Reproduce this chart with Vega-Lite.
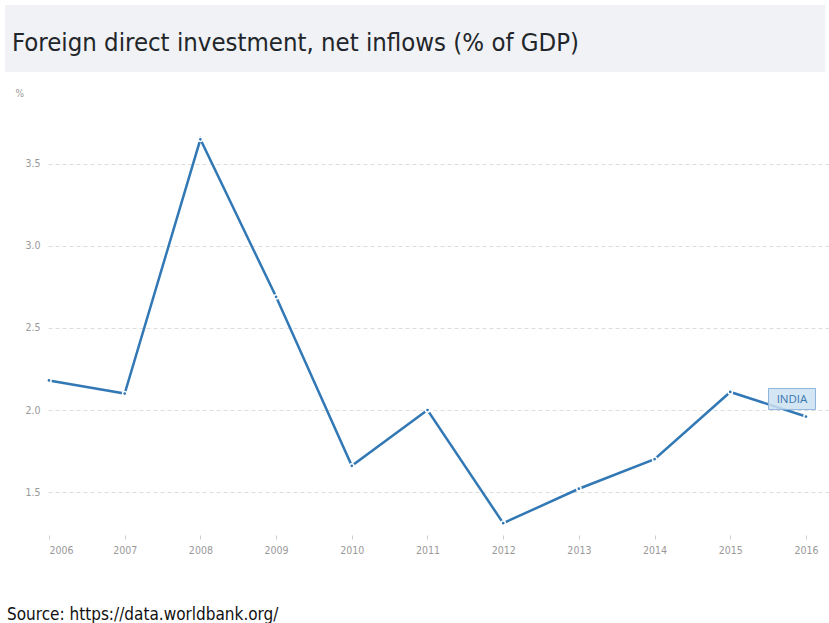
{
  "$schema": "https://vega.github.io/schema/vega-lite/v6.json",
  "padding": {"left": 5, "top": 5, "right": 0, "bottom": 0},
  "background": "white",
  "spacing": 16,
  "config": {
    "view": {"stroke": null},
    "font": "DejaVu Sans Condensed, sans-serif"
  },
  "vconcat": [
    {
      "width": 820,
      "height": 67,
      "data": {"values": [{"band": 1}]},
      "mark": {"type": "rect", "color": "#f0f2f5"},
      "encoding": {},
      "title": {
        "text": "Foreign direct investment, net inflows (% of GDP)",
        "anchor": "start",
        "frame": "group",
        "offset": -47,
        "baseline": "alphabetic",
        "dx": 7,
        "dy": 24,
        "fontSize": 25.5,
        "fontWeight": "normal",
        "color": "#22262a"
      }
    },
    {
      "spacing": 0,
      "hconcat": [
        {
          "width": 1,
          "height": 1,
          "data": {"values": [{"spacer": 1}]},
          "mark": {"type": "rect", "color": "white"},
          "encoding": {}
        },
        {
          "width": 781,
          "height": 427,
          "data": {
            "values": [
              {"year": 2006, "value": 2.18, "country": "INDIA"},
              {"year": 2007, "value": 2.10, "country": "INDIA"},
              {"year": 2008, "value": 3.65, "country": "INDIA"},
              {"year": 2009, "value": 2.69, "country": "INDIA"},
              {"year": 2010, "value": 1.66, "country": "INDIA"},
              {"year": 2011, "value": 2.00, "country": "INDIA"},
              {"year": 2012, "value": 1.31, "country": "INDIA"},
              {"year": 2013, "value": 1.52, "country": "INDIA"},
              {"year": 2014, "value": 1.70, "country": "INDIA"},
              {"year": 2015, "value": 2.11, "country": "INDIA"},
              {"year": 2016, "value": 1.96, "country": "INDIA"}
            ]
          },
          "title": {
            "text": "Source: https://data.worldbank.org/",
            "orient": "bottom",
            "anchor": "start",
            "frame": "bounds",
            "offset": 51,
            "dx": 1,
            "fontSize": 17,
            "fontWeight": "normal",
            "color": "#111111"
          },
          "encoding": {
            "x": {
              "field": "year",
              "type": "quantitative",
              "scale": {"domain": [2005.987, 2016.304], "nice": false, "zero": false},
              "axis": {
                "values": [2006, 2007, 2008, 2009, 2010, 2011, 2012, 2013, 2014, 2015, 2016],
                "format": "d",
                "grid": false,
                "domain": false,
                "tickSize": 4,
                "tickColor": "#cccccc",
                "labelColor": "#999999",
                "labelFontSize": 10.5,
                "labelPadding": 6,
                "title": null
              }
            },
            "y": {
              "field": "value",
              "type": "quantitative",
              "scale": {"domain": [1.238, 3.841], "nice": false, "zero": false},
              "axis": {
                "values": [1.5, 2.0, 2.5, 3.0, 3.5],
                "format": ".1f",
                "domain": false,
                "ticks": false,
                "grid": true,
                "gridDash": [4, 3],
                "gridColor": "#dddddd",
                "labelPadding": 8,
                "labelColor": "#999999",
                "labelFontSize": 10.5,
                "title": "%",
                "titleAngle": 0,
                "titleX": -33,
                "titleY": -15,
                "titleAlign": "left",
                "titleBaseline": "middle",
                "titleColor": "#999999",
                "titleFontWeight": "normal",
                "titleFontSize": 10,
                "minExtent": 42,
                "maxExtent": 42
              }
            }
          },
          "layer": [
            {"mark": {"type": "line", "color": "#3178b5", "strokeWidth": 2.5}},
            {"mark": {"type": "point", "filled": true, "fill": "#3178b5", "stroke": "white", "strokeWidth": 1.5, "size": 18, "opacity": 1}},
            {
              "transform": [{"filter": "datum.year == 2016"}],
              "mark": {
                "type": "point",
                "shape": "M-1,-0.447H1V0.447H-1Z",
                "size": 2209,
                "filled": true,
                "fill": "#cde0f1",
                "fillOpacity": 0.85,
                "stroke": "#8fb5dc",
                "strokeWidth": 1,
                "opacity": 1,
                "xOffset": -14,
                "yOffset": -17.5
              }
            },
            {
              "transform": [{"filter": "datum.year == 2016"}],
              "mark": {
                "type": "text",
                "color": "#3a78b0",
                "fontSize": 11.5,
                "align": "center",
                "baseline": "middle",
                "font": "Open Sans",
                "xOffset": -14,
                "yOffset": -17
              },
              "encoding": {"text": {"field": "country"}}
            }
          ]
        }
      ]
    }
  ]
}
